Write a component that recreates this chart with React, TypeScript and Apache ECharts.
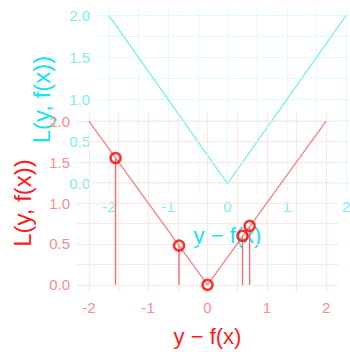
import React, { useEffect, useRef } from "react";
import * as echarts from "echarts";

// Loss curve L = |y - f(x)|
const lossX = [-2, 0, 2];
const lossY = [2, 0, 2];
// Observed residuals and their losses
const pointX = [-1.55, -0.48, 0, 0.59, 0.71];
const pointY = [1.55, 0.48, 0, 0.6, 0.72];
// Tick labels / grid positions
const xLabels = [-2, -1, 0, 1, 2];
const xGridVals = [-2, -1.5, -1, -0.5, 0, 0.5, 1, 1.5, 2];
const yLabels = [0, 0.5, 1, 1.5, 2];
const yGridVals = [0, 0.25, 0.5, 0.75, 1, 1.25, 1.5, 1.75, 2];

const FONT = "'Liberation Sans', Arial, sans-serif";

export default function App() {
  const ref = useRef<HTMLDivElement>(null);
  useEffect(() => {
    if (!ref.current) return;
    document.body.style.overflow = "hidden";
    const chart = echarts.init(ref.current, undefined, { renderer: "svg" });

    const mkX = (grid: number, tickColor: string, gridColor: string, titleColor: string, z: number) => ({
      type: "value",
      gridIndex: grid,
      min: -2.2,
      max: 2.2,
      z,
      axisLine: { show: false },
      axisTick: { show: false, customValues: xGridVals },
      axisLabel: {
        customValues: xLabels,
        color: tickColor,
        fontSize: 15,
        fontFamily: FONT,
        margin: 7,
        formatter: (v: number) => String(v),
      },
      splitLine: { show: true, lineStyle: { color: gridColor, width: 1 } },
      name: "y − f(x)",
      nameLocation: "middle",
      nameGap: 32,
      nameTextStyle: { color: titleColor, fontSize: 22, fontFamily: FONT, verticalAlign: "top" },
    });
    const mkY = (grid: number, tickColor: string, gridColor: string, titleColor: string, z: number, gap: number) => ({
      type: "value",
      gridIndex: grid,
      min: -0.1,
      max: 2.1,
      z,
      axisLine: { show: false },
      axisTick: { show: false, customValues: yGridVals },
      axisLabel: {
        customValues: yLabels,
        color: tickColor,
        fontSize: 15,
        fontFamily: FONT,
        margin: 7,
        formatter: (v: number) => v.toFixed(1),
      },
      splitLine: { show: true, lineStyle: { color: gridColor, width: 1 } },
      name: "L(y, f(x))",
      nameLocation: "middle",
      nameGap: gap,
      nameRotate: 90,
      nameTextStyle: { color: titleColor, fontSize: 24, fontFamily: FONT },
    });

    const lossData = lossX.map((x, i) => [x, lossY[i]]);
    const pts = pointX.map((x, i) => [x, pointY[i]]);

    chart.setOption({
      animation: false,
      backgroundColor: "#ffffff",
      grid: [
        { left: 77, top: 113, width: 261, height: 185 },
        { left: 97, top: 7, width: 261, height: 185 },
      ],
      xAxis: [
        mkX(0, "#ff8c8c", "#ffe6e6", "#ff1a1a", 3),
        mkX(1, "#7deef2", "#e2fbfb", "#19e3ec", 0),
      ],
      yAxis: [
        mkY(0, "#ff8c8c", "#ffe6e6", "#ff1a1a", 3, 43),
        mkY(1, "#7deef2", "#e2fbfb", "#19e3ec", 0, 44),
      ],
      series: [
        {
          type: "line",
          xAxisIndex: 1,
          yAxisIndex: 1,
          data: lossData,
          symbol: "none",
          z: 1,
          lineStyle: { color: "#74f0f2", width: 1.2 },
        },
        {
          type: "line",
          xAxisIndex: 0,
          yAxisIndex: 0,
          data: lossData,
          symbol: "none",
          z: 4,
          lineStyle: { color: "#ff7a7a", width: 1.2 },
        },
        {
          type: "bar",
          xAxisIndex: 0,
          yAxisIndex: 0,
          data: pts,
          barWidth: 1.4,
          z: 4,
          itemStyle: { color: "#ff6a6a" },
        },
        {
          type: "scatter",
          xAxisIndex: 0,
          yAxisIndex: 0,
          data: pts,
          symbol: "circle",
          symbolSize: 10,
          z: 5,
          itemStyle: { color: "rgba(255,255,255,0)", borderColor: "#ff0000", borderWidth: 2.5 },
        },
      ],
    });
    return () => chart.dispose();
  }, []);
  return (
    <div
      ref={ref}
      style={{ position: "fixed", left: 0, top: 0, width: 380, height: 352 }}
    />
  );
}
